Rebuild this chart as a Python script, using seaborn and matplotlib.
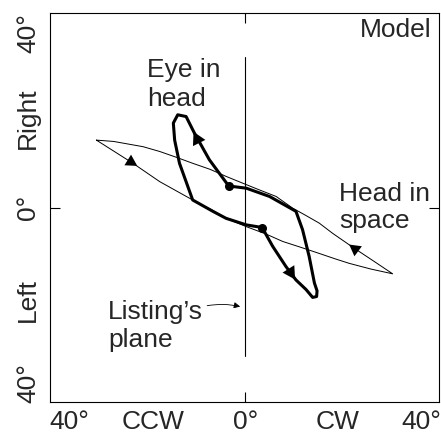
import numpy as np
import pandas as pd
import seaborn as sns
import matplotlib.pyplot as plt

# head-in-space loop (thin): lower branch left->right, upper branch back
head_x = [-33.9, -25.6, -19.5, -12.0, -7.4, -4.4, 0.2, 4.7, 8.5, 12.5, 16.1, 20.5, 23.6, 28.5, 33.5,
          28.9, 24.4, 19.8, 16.8, 13.5, 10.8, 7.0, 3.2, -0.5, -4.4, -8.0, -12.0, -15.8, -19.5, -23.3, -30.0, -33.9]
head_y = [15.5, 10.2, 6.0, 1.8, -0.6, -2.4, -4.3, -6.0, -7.7, -9.0, -10.2, -11.7, -12.7, -14.0, -15.1,
          -12.0, -9.0, -5.8, -3.5, -1.6, -0.1, 2.6, 4.1, 5.6, 7.2, 8.8, 10.2, 11.6, 12.9, 14.0, 15.2, 15.5]

# eye-in-head loop (thick)
eye_x = [-3.8, -8.2, -11.6, -13.5, -15.4, -16.4, -16.1, -15.0, -13.5, -12.0, -7.4, -4.4, 0.2, 3.8,
         6.2, 9.2, 11.5, 13.8, 15.3, 16.2, 16.3, 15.7, 14.5, 13.0, 11.5, 5.5, 0.2, -3.8]
eye_y = [5.0, 11.0, 17.1, 20.9, 21.3, 19.4, 15.5, 10.2, 6.0, 1.8, -0.8, -2.4, -3.9, -4.5,
         -8.8, -13.4, -16.5, -18.7, -20.5, -20.3, -19.0, -17.2, -11.1, -5.0, -0.8, 2.6, 4.5, 5.0]

dots_x = [-3.8, 3.8]
dots_y = [5.0, -4.5]

x_ticks = [-40, -21, 0, 21, 40]
x_labels = ['40°', 'CCW', '0°', 'CW', '40°']
y_ticks = [40, 20.5, 0, -21, -40]
y_labels = ['40°', 'Right', '0°', 'Left', '40°']

sns.set_style('white')
plt.rcParams['font.family'] = ['Liberation Sans', 'DejaVu Sans']

fig = plt.figure(figsize=(4.41, 4.33), dpi=100)
ax = fig.add_axes([0.113, 0.072, 0.882, 0.898])

head = pd.DataFrame({'x': head_x, 'y': head_y})
eye = pd.DataFrame({'x': eye_x, 'y': eye_y})

ax.plot([0, 0], [-34, 34.5], color='black', lw=0.8)
sns.lineplot(data=head, x='x', y='y', sort=False, estimator=None, color='black', lw=0.7, ax=ax)
sns.lineplot(data=eye, x='x', y='y', sort=False, estimator=None, color='black', lw=2.2, ax=ax)
ax.scatter(dots_x, dots_y, s=30, color='black', zorder=5)

# direction arrowheads
arrows = [((-27.0, 11.1), (-24.6, 9.6), 18),
          ((26.0, -10.2), (23.6, -8.4), 18),
          ((-10.2, 14.2), (-11.8, 17.4), 20),
          ((9.8, -14.0), (11.3, -16.4), 20)]
for start, end, ms in arrows:
    ax.annotate('', xy=end, xytext=start,
                arrowprops=dict(arrowstyle='-|>,head_length=0.45,head_width=0.25',
                                mutation_scale=ms, color='black', lw=0,
                                shrinkA=0, shrinkB=0))

ax.set_xlim(-44.5, 44.0)
ax.set_ylim(-44.4, 44.6)
ax.set_xticks(x_ticks)
ax.set_xticklabels(x_labels, fontsize=19)
ax.set_yticks(y_ticks)
ax.set_yticklabels(y_labels, fontsize=19, rotation=90, va='center')
ax.tick_params(axis='both', length=0)
ax.tick_params(axis='x', pad=6)
ax.tick_params(axis='y', pad=7)

ax.xaxis.remove_overlapping_locs = False
ax.yaxis.remove_overlapping_locs = False
ax.set_xticks([0], minor=True)
ax.set_yticks([0], minor=True)
ax.tick_params(which='minor', direction='in', length=7, width=0.8, color='black',
               top=True, right=True, bottom=True, left=True)

for s in ax.spines.values():
    s.set_color('black')
    s.set_linewidth(0.8)

ax.set_xlabel('')
ax.set_ylabel('')

ax.text(42.3, 40.7, 'Model', fontsize=19, ha='right', va='center')
ax.text(-22.3, 28.3, 'Eye in\nhead', fontsize=19, ha='left', va='center', linespacing=1.25)
ax.text(21.4, 0.0, 'Head in\nspace', fontsize=19, ha='left', va='center', linespacing=1.15)
ax.text(-31.3, -27.0, 'Listing\u2019s\nplane', fontsize=19, ha='left', va='center', linespacing=1.2)
ax.annotate('', xy=(-1.2, -22.6), xytext=(-8.7, -22.4),
            arrowprops=dict(arrowstyle='-|>', mutation_scale=9, color='black', lw=0.6,
                            shrinkA=0, shrinkB=0, connectionstyle='arc3,rad=-0.1'))

plt.savefig('out.png', dpi=100)
